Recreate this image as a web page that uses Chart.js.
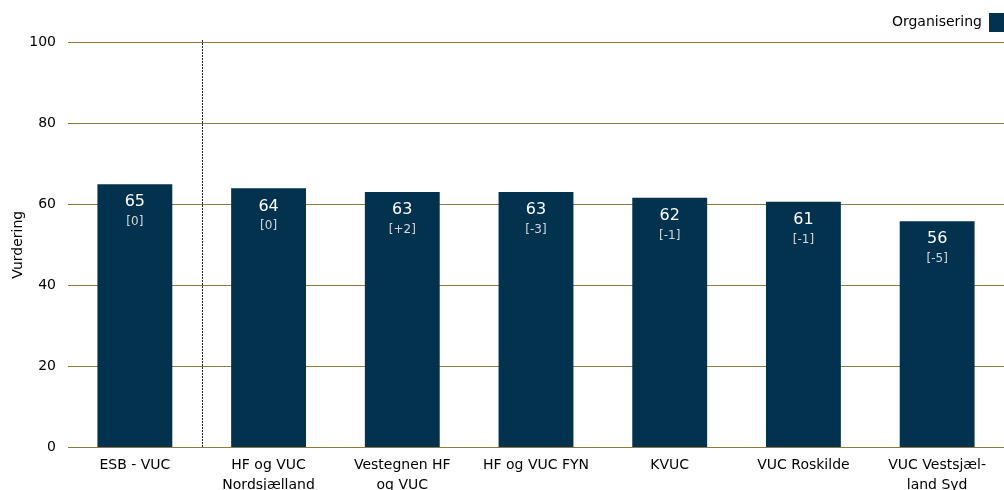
<!DOCTYPE html>
<html>
<head>
<meta charset="utf-8">
<script src="https://cdn.jsdelivr.net/npm/chart.js@4"></script>
<style>
  html, body { margin: 0; padding: 0; overflow: hidden; background: #fff; }
  #wrap { width: 1004px; height: 504px; }
</style>
</head>
<body>
<div id="wrap"><canvas id="chart"></canvas></div>
<script>
// Data
const categories = [
    'ESB - VUC',
    ['HF og VUC', 'Nordsjælland'],
    ['Vestegnen HF', 'og VUC'],
    'HF og VUC FYN',
    'KVUC',
    'VUC Roskilde',
    ['VUC Vestsjæl-', 'land Syd']
];
const values = [64.9, 63.9, 63.0, 63.0, 61.6, 60.6, 55.8];
const changes = ['[0]', '[0]', '[+2]', '[-3]', '[-1]', '[-1]', '[-5]'];
const yTicks = [0, 20, 40, 60, 80, 100];

const FONT = "'DejaVu Sans', Tahoma, sans-serif";
const barColor = '#03324f';
const gridColor = '#8c7a45';

// Etiquetas dentro das barras
const barLabels = {
    id: 'barLabels',
    afterDatasetsDraw(chart) {
        const ctx = chart.ctx;
        const meta = chart.getDatasetMeta(0);
        ctx.save();
        ctx.textAlign = 'center';
        ctx.textBaseline = 'middle';
        meta.data.forEach((bar, i) => {
            ctx.fillStyle = '#ffffff';
            ctx.font = `16px ${FONT}`;
            ctx.fillText(Math.round(values[i]), bar.x, bar.y + 18);
            ctx.fillStyle = '#d0d8e0';
            ctx.font = `12px ${FONT}`;
            ctx.fillText(changes[i], bar.x, bar.y + 38);
        });
        ctx.restore();
    }
};

// Linha pontilhada entre a primeira e a segunda categoria
const divider = {
    id: 'divider',
    afterDatasetsDraw(chart) {
        const x = chart.scales.x;
        const y = chart.scales.y;
        const px = Math.round((x.getPixelForValue(0) + x.getPixelForValue(1)) / 2) + 0.5;
        const ctx = chart.ctx;
        ctx.save();
        ctx.strokeStyle = '#222222';
        ctx.lineWidth = 1;
        ctx.setLineDash([2, 1]);
        ctx.beginPath();
        ctx.moveTo(px, y.getPixelForValue(100) - 2);
        ctx.lineTo(px, y.getPixelForValue(0));
        ctx.stroke();
        ctx.restore();
    }
};

new Chart(document.getElementById('chart'), {
    type: 'bar',
    data: {
        labels: categories,
        datasets: [{
            label: 'Organisering',
            data: values,
            backgroundColor: barColor,
            borderWidth: 0,
            categoryPercentage: 1,
            barPercentage: 0.56
        }]
    },
    options: {
        responsive: true,
        maintainAspectRatio: false,
        animation: false,
        layout: { padding: { top: 13, right: 0, left: 10, bottom: 0 } },
        scales: {
            x: {
                grid: { display: false, drawTicks: false },
                border: { display: true, color: gridColor },
                ticks: { color: '#000', font: { family: FONT, size: 14, lineHeight: 1.45 }, padding: 8, maxRotation: 0, autoSkip: false }
            },
            y: {
                min: 0,
                max: 100,
                afterBuildTicks(scale) { scale.ticks = yTicks.map(v => ({ value: v })); },
                afterFit(scale) { scale.width = 58; },
                grid: { color: gridColor, drawTicks: false },
                border: { display: false },
                ticks: { color: '#000', font: { family: FONT, size: 14 }, padding: 12 },
                title: { display: true, text: 'Vurdering', color: '#000', font: { family: FONT, size: 14 }, padding: 0 }
            }
        },
        plugins: {
            legend: {
                display: true,
                position: 'top',
                align: 'start',
                rtl: true,
                labels: {
                    boxWidth: 15,
                    boxHeight: 19,
                    color: '#000',
                    font: { family: FONT, size: 14 },
                    padding: 0
                }
            },
            tooltip: { enabled: false }
        }
    },
    plugins: [barLabels, divider]
});
</script>
</body>
</html>
